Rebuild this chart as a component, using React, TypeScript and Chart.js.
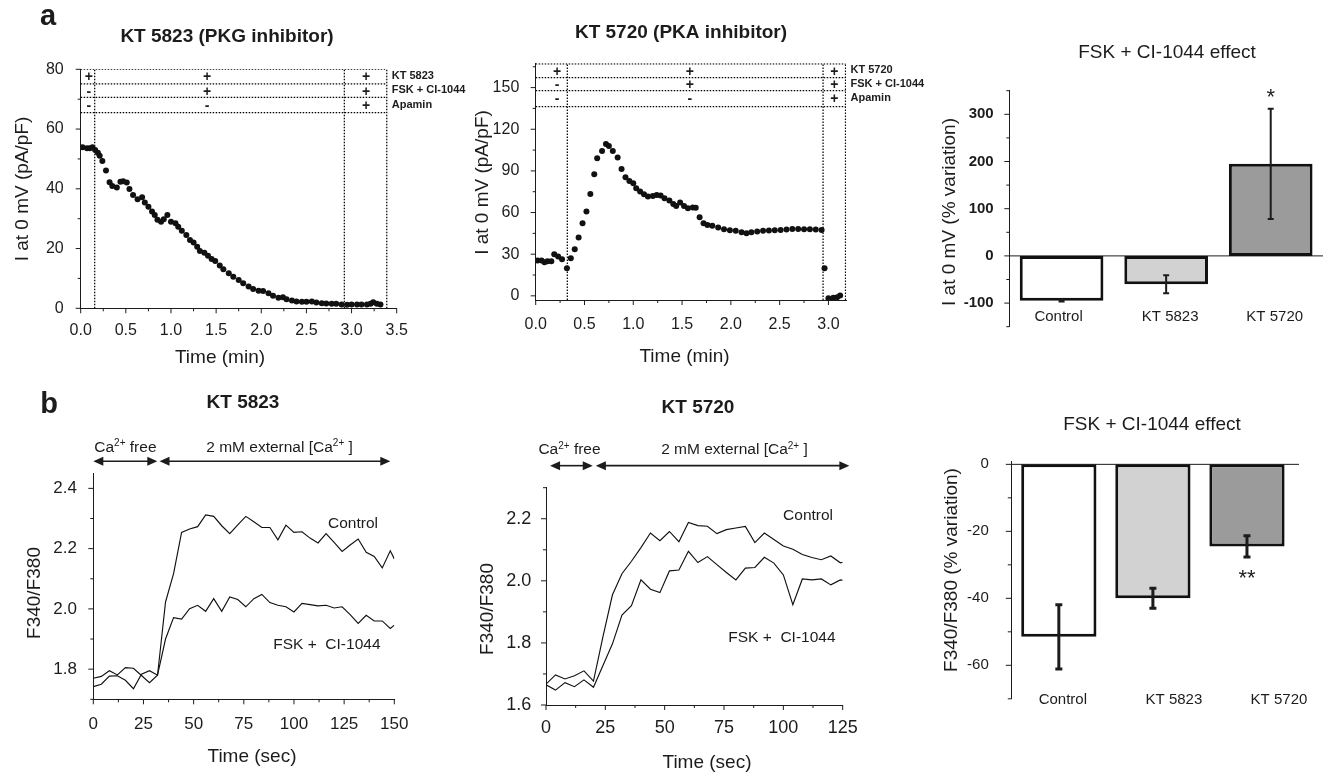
import React, { useEffect, useRef } from "react";
import { Chart, registerables } from "chart.js";

Chart.register(...registerables);

const W = 1323;
const H = 773;
const FONT = "'Liberation Sans', Arial, Helvetica, sans-serif";
const INK = "#1c1c1c";
Chart.defaults.font.family = FONT;
Chart.defaults.color = INK;

// ---------------- a, left: KT 5823 (PKG inhibitor) ----------------
const a1Time = [0.02, 0.07, 0.1, 0.13, 0.16, 0.19, 0.21, 0.24, 0.28, 0.32, 0.35, 0.4, 0.44, 0.47, 0.51, 0.54, 0.58, 0.63, 0.68, 0.71, 0.75, 0.79, 0.82, 0.85, 0.89, 0.92, 0.96, 1.0, 1.05, 1.08, 1.12, 1.17, 1.21, 1.25, 1.29, 1.32, 1.37, 1.41, 1.45, 1.49, 1.54, 1.58, 1.64, 1.69, 1.75, 1.8, 1.86, 1.91, 1.97, 2.02, 2.08, 2.13, 2.19, 2.24, 2.28, 2.34, 2.39, 2.45, 2.5, 2.56, 2.61, 2.67, 2.72, 2.78, 2.83, 2.89, 2.95, 3.0, 3.06, 3.11, 3.17, 3.21, 3.24, 3.28, 3.32];
const a1Current = [53.9, 53.6, 53.6, 53.9, 53.0, 52.1, 51.1, 49.3, 46.1, 42.2, 40.9, 40.4, 42.4, 42.5, 42.1, 39.9, 37.9, 36.5, 37.2, 35.4, 34.0, 32.4, 31.2, 29.6, 29.0, 29.8, 31.2, 29.0, 28.5, 27.3, 26.0, 24.5, 22.9, 22.0, 20.6, 19.2, 18.6, 17.6, 16.5, 15.8, 14.3, 13.1, 11.7, 10.6, 9.5, 8.4, 7.3, 6.5, 5.9, 5.8, 5.0, 4.2, 3.5, 3.7, 3.0, 2.6, 2.3, 2.2, 2.2, 2.3, 1.9, 1.7, 1.6, 1.5, 1.5, 1.3, 1.2, 1.3, 1.3, 1.3, 1.3, 1.5, 2.0, 1.5, 1.3];
const a1BandLevels = [80, 75.1, 70.6, 65.5];
const a1Dividers = [0.155, 2.92, 3.39];
const a1SymbolTimes = [0.09, 1.4, 3.16];
const a1Symbols = [["+", "+", "+"], ["-", "+", "+"], ["-", "-", "+"]];
const a1RowLabels = ["KT 5823", "FSK + CI-1044", "Apamin"];

// ---------------- a, middle: KT 5720 (PKA inhibitor) ----------------
const a2Time = [0.02, 0.06, 0.09, 0.12, 0.16, 0.19, 0.23, 0.27, 0.32, 0.36, 0.4, 0.44, 0.48, 0.52, 0.56, 0.6, 0.63, 0.68, 0.72, 0.75, 0.79, 0.84, 0.88, 0.92, 0.96, 1.0, 1.03, 1.07, 1.11, 1.15, 1.2, 1.24, 1.28, 1.32, 1.37, 1.41, 1.44, 1.48, 1.52, 1.56, 1.61, 1.64, 1.68, 1.72, 1.76, 1.81, 1.87, 1.93, 1.99, 2.05, 2.11, 2.16, 2.21, 2.27, 2.33, 2.39, 2.45, 2.51, 2.57, 2.63, 2.69, 2.75, 2.81, 2.87, 2.93, 2.96, 3.0, 3.05, 3.09, 3.12];
const a2Current = [25.4, 25.4, 24.2, 25.0, 25.0, 30.0, 28.3, 26.4, 19.9, 27.1, 33.6, 42.0, 52.3, 60.7, 73.4, 87.6, 99.1, 104.4, 109.4, 108.0, 104.4, 99.6, 91.4, 85.4, 82.8, 81.1, 77.5, 75.1, 73.2, 71.5, 72.0, 72.7, 72.2, 70.3, 68.6, 66.2, 64.8, 67.2, 64.8, 63.1, 63.6, 63.4, 56.6, 52.3, 51.1, 50.4, 49.2, 48.0, 47.3, 46.8, 45.8, 45.1, 45.8, 46.3, 46.8, 47.0, 47.3, 47.5, 47.8, 48.2, 48.2, 48.0, 48.0, 47.8, 47.5, 19.9, -1.7, -1.4, -1.0, 0.2];
const a2BandLevels = [167, 157.2, 147.8, 136.3];
const a2Dividers = [0.324, 2.945, 3.175];
const a2SymbolTimes = [0.22, 1.58, 3.06];
const a2Symbols = [["+", "+", "+"], ["-", "+", "+"], ["-", "-", "+"]];
const a2RowLabels = ["KT 5720", "FSK + CI-1044", "Apamin"];

// ---------------- a, right: FSK + CI-1044 effect on current ----------------
const a3Groups = ["Control", "KT 5823", "KT 5720"];
const a3Values = [-95, -60, 195];
const a3Errors = [1.5, 19, 117];
const a3Marks = ["", "", "*"];

// ---------------- b, left: KT 5823 Ca2+ imaging ----------------
const b1Time = [0, 4, 8, 12, 16, 20, 24, 28, 32, 36, 40, 44, 48, 52, 56, 60, 64, 68, 72, 76, 80, 84, 88, 92, 96, 100, 104, 108, 112, 116, 120, 124, 128, 132, 136, 140, 144, 148, 150];
const b1Control = [1.77, 1.776, 1.795, 1.781, 1.805, 1.803, 1.779, 1.755, 1.78, 2.023, 2.117, 2.254, 2.265, 2.273, 2.312, 2.307, 2.276, 2.25, 2.279, 2.307, 2.289, 2.27, 2.27, 2.229, 2.278, 2.254, 2.256, 2.235, 2.219, 2.25, 2.221, 2.191, 2.212, 2.232, 2.188, 2.174, 2.136, 2.193, 2.166];
const b1Treated = [1.742, 1.75, 1.777, 1.778, 1.763, 1.735, 1.783, 1.795, 1.78, 1.9, 1.971, 1.966, 2.001, 2.012, 1.992, 2.034, 1.992, 2.04, 2.031, 2.007, 2.034, 2.048, 2.021, 2.012, 2.007, 1.99, 2.018, 2.014, 2.01, 2.012, 2.003, 2.007, 1.981, 1.952, 1.979, 1.96, 1.96, 1.935, 1.946];

// ---------------- b, middle: KT 5720 Ca2+ imaging ----------------
const b2Time = [0, 4, 8, 12, 16, 20, 24, 28, 32, 36, 40, 44, 48, 52, 56, 60, 64, 68, 72, 76, 80, 84, 88, 92, 96, 100, 104, 108, 112, 116, 120, 124, 125];
const b2Control = [1.667, 1.697, 1.684, 1.694, 1.71, 1.677, 1.82, 1.955, 2.023, 2.063, 2.107, 2.154, 2.129, 2.159, 2.126, 2.188, 2.178, 2.176, 2.152, 2.165, 2.17, 2.175, 2.123, 2.154, 2.133, 2.112, 2.102, 2.085, 2.075, 2.068, 2.08, 2.058, 2.06];
const b2Treated = [1.665, 1.648, 1.672, 1.659, 1.681, 1.657, 1.727, 1.797, 1.89, 1.92, 2.003, 1.973, 1.962, 2.032, 2.035, 2.095, 2.059, 2.078, 2.052, 2.027, 2.003, 2.041, 2.043, 2.076, 2.057, 2.019, 1.923, 2.006, 2.003, 2.006, 1.987, 2.003, 2.002];

// ---------------- b, right: FSK + CI-1044 effect on F340/F380 ----------------
const b3Groups = ["Control", "KT 5823", "KT 5720"];
const b3Values = [-51.5, -40, -24.5];
const b3Errors = [9.6, 3, 3.2];
const b3Marks = ["", "", "**"];

const barFills = ["#ffffff", "#d2d2d2", "#9b9b9b"];

// ---------------- helpers ----------------
const AXW = 75;
const AXH = 40;
type Frame = { L: number; R: number; T: number; B: number };
const FA1: Frame = { L: 80.7, R: 396.7, T: 69.3, B: 308.3 };
const FA2: Frame = { L: 535.7, R: 846, T: 63.3, B: 300 };
const FA3: Frame = { L: 1009.3, R: 1323, T: 90.7, B: 326.7 };
const FB1: Frame = { L: 93.3, R: 394.3, T: 473.3, B: 699.3 };
const FB2: Frame = { L: 546, R: 842.7, T: 487.7, B: 705 };
const FB3: Frame = { L: 1011.8, R: 1294, T: 461, B: 698.8 };

const isMul = (v: number, m: number) => Math.abs(v / m - Math.round(v / m)) < 1e-6;
const pts = (xs: number[], ys: number[]) => xs.map((x, i) => ({ x, y: ys[i] }));

function padFor(f: Frame, withX: boolean) {
  return {
    padding: {
      left: f.L - AXW,
      right: W - f.R,
      top: f.T,
      bottom: H - f.B - (withX ? AXH : 0),
    },
  };
}

function axis(vertical: boolean, min: number, max: number, step: number, major: number, fmt: (v: number) => string, size: number, pad: number, weight: string = "normal") {
  return {
    type: "linear",
    min,
    max,
    grid: { display: false },
    border: { display: true, color: INK, width: 1 },
    ticks: {
      stepSize: step,
      includeBounds: false,
      autoSkip: false,
      maxRotation: 0,
      minRotation: 0,
      padding: pad,
      color: INK,
      font: { family: FONT, size, weight },
      callback: (v: any) => (isMul(Number(v), major) ? fmt(Number(v)) : ""),
    },
    afterFit: (s: any) => {
      if (vertical) s.width = AXW;
      else s.height = AXH;
    },
  };
}

function drawText(ctx: CanvasRenderingContext2D, s: string, x: number, y: number, font: string, align: CanvasTextAlign = "center", rot = 0) {
  ctx.save();
  ctx.font = font;
  ctx.fillStyle = INK;
  ctx.textAlign = align;
  ctx.textBaseline = "middle";
  ctx.translate(x, y);
  if (rot) ctx.rotate(rot);
  ctx.fillText(s, 0, 0);
  ctx.restore();
}

function drawRich(ctx: CanvasRenderingContext2D, parts: [string, boolean][], cx: number, cy: number, size: number) {
  ctx.save();
  ctx.fillStyle = INK;
  ctx.textBaseline = "alphabetic";
  ctx.textAlign = "left";
  const normal = `${size}px ${FONT}`;
  const small = `${Math.round(size * 0.66)}px ${FONT}`;
  let total = 0;
  for (const [t, sup] of parts) {
    ctx.font = sup ? small : normal;
    total += ctx.measureText(t).width;
  }
  let x = cx - total / 2;
  const base = cy + size * 0.36;
  for (const [t, sup] of parts) {
    ctx.font = sup ? small : normal;
    ctx.fillText(t, x, sup ? base - size * 0.36 : base);
    x += ctx.measureText(t).width;
  }
  ctx.restore();
}

function drawArrow(ctx: CanvasRenderingContext2D, x1: number, x2: number, y: number) {
  const hl = 10;
  const hw = 4.5;
  ctx.save();
  ctx.strokeStyle = INK;
  ctx.fillStyle = INK;
  ctx.lineWidth = 1.6;
  ctx.beginPath();
  ctx.moveTo(x1 + hl - 1, y);
  ctx.lineTo(x2 - hl + 1, y);
  ctx.stroke();
  ctx.beginPath();
  ctx.moveTo(x1, y);
  ctx.lineTo(x1 + hl, y - hw);
  ctx.lineTo(x1 + hl, y + hw);
  ctx.closePath();
  ctx.fill();
  ctx.beginPath();
  ctx.moveTo(x2, y);
  ctx.lineTo(x2 - hl, y - hw);
  ctx.lineTo(x2 - hl, y + hw);
  ctx.closePath();
  ctx.fill();
  ctx.restore();
}

function drawTickMarks(chart: any, id: string, major: number, majorLen: number, minorLen: number) {
  const s = chart.scales[id];
  const ctx = chart.ctx as CanvasRenderingContext2D;
  ctx.save();
  ctx.strokeStyle = INK;
  ctx.lineWidth = 1;
  ctx.beginPath();
  for (const t of s.ticks) {
    const p = s.getPixelForValue(t.value);
    const len = isMul(t.value, major) ? majorLen : minorLen;
    if (s.isHorizontal()) {
      ctx.moveTo(p, s.top);
      ctx.lineTo(p, s.top + len);
    } else {
      ctx.moveTo(s.right, p);
      ctx.lineTo(s.right - len, p);
    }
  }
  ctx.stroke();
  ctx.restore();
}

function protocolLines(levels: number[], dividers: number[], yMin: number) {
  const style = { borderColor: "#000", borderWidth: 1.25, borderDash: [1.5, 1.5], pointRadius: 0, showLine: true, fill: false, order: 2 };
  const xEnd = dividers[dividers.length - 1];
  return [
    ...levels.map((lv) => ({ ...style, data: [{ x: 0, y: lv }, { x: xEnd, y: lv }] })),
    ...dividers.map((d) => ({ ...style, data: [{ x: d, y: yMin }, { x: d, y: levels[0] }] })),
  ];
}

function drawProtocol(chart: any, levels: number[], dividers: number[], symTimes: number[], symbols: string[][], rowLabels: string[]) {
  const ctx = chart.ctx as CanvasRenderingContext2D;
  const { x, y } = chart.scales;
  const lx = x.getPixelForValue(dividers[dividers.length - 1]) + 5;
  for (let r = 0; r < rowLabels.length; r++) {
    const mid = (levels[r] + levels[r + 1]) / 2;
    const py = y.getPixelForValue(mid);
    for (let c = 0; c < symTimes.length; c++) {
      drawText(ctx, symbols[r][c], x.getPixelForValue(symTimes[c]), py + 1, `bold 14px ${FONT}`);
    }
    drawText(ctx, rowLabels[r], lx, py - 0.5, `bold 11px ${FONT}`, "left");
  }
}

function drawBarExtras(chart: any, values: number[], errors: number[], marks: string[], lw: number, cap: number, markSize: number, markGap: number) {
  const ctx = chart.ctx as CanvasRenderingContext2D;
  const { x, y } = chart.scales;
  ctx.save();
  ctx.strokeStyle = INK;
  ctx.lineWidth = lw;
  values.forEach((v, i) => {
    const cx = x.getPixelForValue(i);
    const top = y.getPixelForValue(v + errors[i]);
    const bot = y.getPixelForValue(v - errors[i]);
    ctx.beginPath();
    ctx.moveTo(cx, top);
    ctx.lineTo(cx, bot);
    ctx.moveTo(cx - cap, top);
    ctx.lineTo(cx + cap, top);
    ctx.moveTo(cx - cap, bot);
    ctx.lineTo(cx + cap, bot);
    ctx.stroke();
    if (marks[i]) {
      ctx.save();
      ctx.fillStyle = INK;
      ctx.font = `${markSize}px ${FONT}`;
      ctx.textAlign = "center";
      ctx.textBaseline = "alphabetic";
      const edge = v >= 0 ? top : bot;
      ctx.fillText(marks[i], cx, v >= 0 ? edge - markGap : edge + markGap);
      ctx.restore();
    }
  });
  ctx.restore();
}

function zeroLine(chart: any, extra: number) {
  const ctx = chart.ctx as CanvasRenderingContext2D;
  const { y } = chart.scales;
  const a = chart.chartArea;
  const py = y.getPixelForValue(0);
  ctx.save();
  ctx.strokeStyle = INK;
  ctx.lineWidth = 1;
  ctx.beginPath();
  ctx.moveTo(a.left, py);
  ctx.lineTo(a.right + extra, py);
  ctx.stroke();
  ctx.restore();
}

const baseOpts = {
  animation: false,
  responsive: false,
  events: [],
  plugins: { legend: { display: false }, tooltip: { enabled: false }, title: { display: false } },
};

const T19 = `19px ${FONT}`;
const B19 = `bold 19px ${FONT}`;
const ROT = -Math.PI / 2;

// ---------------- chart configs ----------------
function cfgA1(): any {
  return {
    type: "scatter",
    data: {
      datasets: [
        { data: pts(a1Time, a1Current), pointRadius: 3, pointBackgroundColor: "#111", pointBorderWidth: 0, showLine: false, order: 0 },
        ...protocolLines(a1BandLevels, a1Dividers, 0),
      ],
    },
    options: {
      ...baseOpts,
      layout: padFor(FA1, true),
      scales: {
        x: axis(false, 0, 3.5, 0.25, 0.5, (v) => v.toFixed(1), 16, 5),
        y: axis(true, 0, 80, 10, 20, (v) => String(v), 16, 9),
      },
    },
    plugins: [
      {
        id: "decoA1",
        afterDraw(chart: any) {
          const ctx = chart.ctx;
          drawTickMarks(chart, "x", 0.5, 5, 3);
          drawTickMarks(chart, "y", 20, 5, 3);
          drawProtocol(chart, a1BandLevels, a1Dividers, a1SymbolTimes, a1Symbols, a1RowLabels);
          drawText(ctx, "a", 48, 17, `bold 29px ${FONT}`);
          drawText(ctx, "KT 5823 (PKG inhibitor)", 227, 37, B19);
          drawText(ctx, "I at 0 mV (pA/pF)", 23, 189, T19, "center", ROT);
          drawText(ctx, "Time (min)", 220, 358, T19);
        },
      },
    ],
  };
}

function cfgA2(): any {
  return {
    type: "scatter",
    data: {
      datasets: [
        { data: pts(a2Time, a2Current), pointRadius: 3, pointBackgroundColor: "#111", pointBorderWidth: 0, showLine: false, order: 0 },
        ...protocolLines(a2BandLevels, a2Dividers, -3),
      ],
    },
    options: {
      ...baseOpts,
      layout: padFor(FA2, true),
      scales: {
        x: axis(false, 0, 3.18, 0.25, 0.5, (v) => v.toFixed(1), 16, 6.5),
        y: axis(true, -3, 167.5, 15, 30, (v) => String(v), 16, 8.4),
      },
    },
    plugins: [
      {
        id: "decoA2",
        afterDraw(chart: any) {
          const ctx = chart.ctx;
          drawTickMarks(chart, "x", 0.5, 5, 3);
          drawTickMarks(chart, "y", 30, 5, 3);
          drawProtocol(chart, a2BandLevels, a2Dividers, a2SymbolTimes, a2Symbols, a2RowLabels);
          drawText(ctx, "KT 5720 (PKA inhibitor)", 681, 33, B19);
          drawText(ctx, "I at 0 mV (pA/pF)", 483, 182.5, T19, "center", ROT);
          drawText(ctx, "Time (min)", 684.5, 357, T19);
        },
      },
    ],
  };
}

function cfgA3(): any {
  return {
    type: "bar",
    data: {
      labels: a3Groups,
      datasets: [
        { data: a3Values, backgroundColor: barFills, borderColor: "#111", borderWidth: 3, borderSkipped: false, barPercentage: 0.8, categoryPercentage: 1 },
      ],
    },
    options: {
      ...baseOpts,
      layout: padFor(FA3, false),
      scales: {
        x: { type: "category", display: false, offset: true },
        y: axis(true, -150, 350, 50, 100, (v) => String(v), 15, 7.6, "bold"),
      },
    },
    plugins: [
      {
        id: "decoA3",
        beforeDatasetsDraw(chart: any) {
          zeroLine(chart, 0);
        },
        afterDraw(chart: any) {
          const ctx = chart.ctx;
          const { x, y } = chart.scales;
          drawTickMarks(chart, "y", 100, 5, 3);
          drawBarExtras(chart, a3Values, a3Errors, a3Marks, 2, 3, 22, 5);
          const offs = [-3, 4, 4];
          a3Groups.forEach((g, i) => drawText(ctx, g, x.getPixelForValue(i) + offs[i], y.getPixelForValue(-130), `15px ${FONT}`));
          drawText(ctx, "FSK + CI-1044 effect", 1167, 53, T19);
          drawText(ctx, "I at 0 mV (% variation)", 950, 212, T19, "center", ROT);
        },
      },
    ],
  };
}

function lineSet(xs: number[], ys: number[]) {
  return { data: pts(xs, ys), showLine: true, pointRadius: 0, borderColor: "#111", borderWidth: 1.15, tension: 0, fill: false };
}

function cfgB1(): any {
  return {
    type: "scatter",
    data: { datasets: [lineSet(b1Time, b1Control), lineSet(b1Time, b1Treated)] },
    options: {
      ...baseOpts,
      layout: padFor(FB1, true),
      scales: {
        x: axis(false, 0, 150, 12.5, 25, (v) => String(v), 17, 7),
        y: axis(true, 1.7, 2.45, 0.1, 0.2, (v) => v.toFixed(1), 17, 8.3),
      },
    },
    plugins: [
      {
        id: "decoB1",
        afterDraw(chart: any) {
          const ctx = chart.ctx;
          const { x, y } = chart.scales;
          drawTickMarks(chart, "x", 25, 5, 3);
          drawTickMarks(chart, "y", 0.2, 5, 3);
          const ay = y.getPixelForValue(2.49);
          drawArrow(ctx, x.getPixelForValue(0), x.getPixelForValue(31.9), ay);
          drawArrow(ctx, x.getPixelForValue(33), x.getPixelForValue(148), ay);
          const ty = y.getPixelForValue(2.54);
          drawRich(ctx, [["Ca", false], ["2+", true], [" free", false]], x.getPixelForValue(16), ty, 15.5);
          drawRich(ctx, [["2 mM external [Ca", false], ["2+", true], [" ]", false]], x.getPixelForValue(92.8), ty, 15.5);
          drawText(ctx, "Control", x.getPixelForValue(129.4), y.getPixelForValue(2.283), `15.5px ${FONT}`);
          drawText(ctx, "FSK +  CI-1044", x.getPixelForValue(116.4), y.getPixelForValue(1.881), `15.5px ${FONT}`);
          drawText(ctx, "b", 49, 405, `bold 29px ${FONT}`);
          drawText(ctx, "KT 5823", 243, 403, B19);
          drawText(ctx, "F340/F380", 35, 593, T19, "center", ROT);
          drawText(ctx, "Time (sec)", 252, 757, T19);
        },
      },
    ],
  };
}

function cfgB2(): any {
  return {
    type: "scatter",
    data: { datasets: [lineSet(b2Time, b2Control), lineSet(b2Time, b2Treated)] },
    options: {
      ...baseOpts,
      layout: padFor(FB2, true),
      scales: {
        x: axis(false, 0, 125, 12.5, 25, (v) => String(v), 18, 4),
        y: axis(true, 1.6, 2.3, 0.1, 0.2, (v) => v.toFixed(1), 18, 6.7),
      },
    },
    plugins: [
      {
        id: "decoB2",
        afterDraw(chart: any) {
          const ctx = chart.ctx;
          const { x, y } = chart.scales;
          drawTickMarks(chart, "x", 25, 5, 3);
          drawTickMarks(chart, "y", 0.2, 5, 3);
          const ay = y.getPixelForValue(2.371);
          drawArrow(ctx, x.getPixelForValue(1.7), x.getPixelForValue(19.7), ay);
          drawArrow(ctx, x.getPixelForValue(21), x.getPixelForValue(127.8), ay);
          const ty = y.getPixelForValue(2.426);
          drawRich(ctx, [["Ca", false], ["2+", true], [" free", false]], x.getPixelForValue(9.9), ty, 15.5);
          drawRich(ctx, [["2 mM external [Ca", false], ["2+", true], [" ]", false]], x.getPixelForValue(79.4), ty, 15.5);
          drawText(ctx, "Control", x.getPixelForValue(110.4), y.getPixelForValue(2.21), `15.5px ${FONT}`);
          drawText(ctx, "FSK +  CI-1044", x.getPixelForValue(99.4), y.getPixelForValue(1.817), `15.5px ${FONT}`);
          drawText(ctx, "KT 5720", 698, 408, B19);
          drawText(ctx, "F340/F380", 488, 609, T19, "center", ROT);
          drawText(ctx, "Time (sec)", 707, 763, T19);
        },
      },
    ],
  };
}

function cfgB3(): any {
  return {
    type: "bar",
    data: {
      labels: b3Groups,
      datasets: [
        { data: b3Values, backgroundColor: barFills, borderColor: "#111", borderWidth: 3, borderSkipped: false, barPercentage: 0.8, categoryPercentage: 1 },
      ],
    },
    options: {
      ...baseOpts,
      layout: padFor(FB3, false),
      scales: {
        x: { type: "category", display: false, offset: true },
        y: axis(true, -70, 1, 10, 20, (v) => String(v), 15, 15),
      },
    },
    plugins: [
      {
        id: "decoB3",
        beforeDatasetsDraw(chart: any) {
          zeroLine(chart, 5);
        },
        afterDraw(chart: any) {
          const ctx = chart.ctx;
          const { x } = chart.scales;
          drawTickMarks(chart, "y", 20, 6, 4);
          drawBarExtras(chart, b3Values, b3Errors, b3Marks, 3, 3.5, 22, 28);
          const offs = [4, 21, 32];
          const ly = chart.chartArea.bottom + 1;
          b3Groups.forEach((g, i) => drawText(ctx, g, x.getPixelForValue(i) + offs[i], ly, `15px ${FONT}`));
          drawText(ctx, "FSK + CI-1044 effect", 1152, 425, T19);
          drawText(ctx, "F340/F380 (% variation)", 952, 570, T19, "center", ROT);
        },
      },
    ],
  };
}

function Panel({ make }: { make: () => any }) {
  const ref = useRef<HTMLCanvasElement | null>(null);
  useEffect(() => {
    if (!ref.current) return;
    const chart = new Chart(ref.current, make());
    return () => chart.destroy();
  }, [make]);
  return (
    <canvas
      ref={ref}
      width={W}
      height={H}
      style={{ position: "absolute", left: 0, top: 0, width: W, height: H }}
    />
  );
}

const makers = [cfgA1, cfgA2, cfgA3, cfgB1, cfgB2, cfgB3];

export default function App() {
  return (
    <div style={{ position: "absolute", left: 0, top: 0, width: W, height: H, background: "#fff", overflow: "hidden" }}>
      {makers.map((m, i) => (
        <Panel key={i} make={m} />
      ))}
    </div>
  );
}
